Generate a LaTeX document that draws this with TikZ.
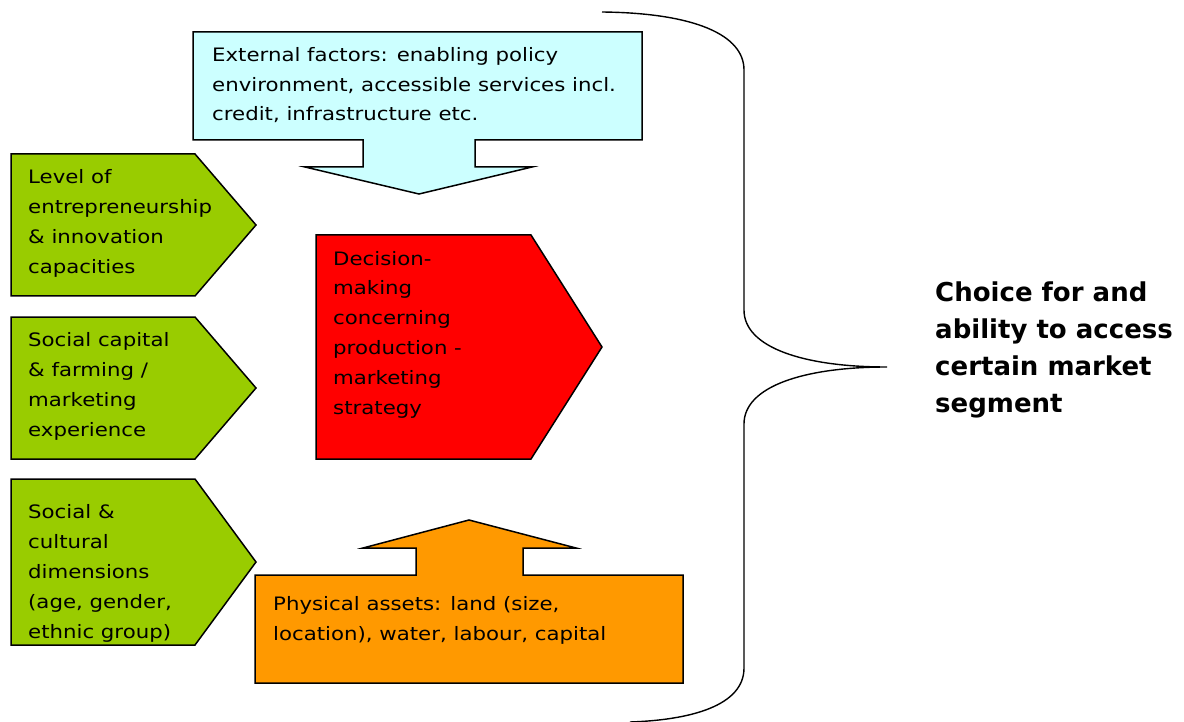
\documentclass[tikz,border=0pt]{standalone}
\usepackage{fontspec}
\newfontfamily\bodyfont{DejaVu Sans}[FakeStretch=1.15]
\newfontfamily\headfont{DejaVu Sans}
\definecolor{extblue}{HTML}{CCFFFF}
\definecolor{leafgreen}{HTML}{99CC00}
\definecolor{decred}{HTML}{FF0000}
\definecolor{assetorange}{HTML}{FF9900}
\tikzset{
  shapeline/.style={draw=black, line width=1.5pt, line join=miter},
  % multi-line texts are placed by the baseline of their last line
  bodytext/.style={anchor=base west, inner sep=0pt, align=left,
    font=\bodyfont\fontsize{18.5}{29.8}\selectfont},
  headtext/.style={anchor=base west, inner sep=0pt, align=left,
    font=\headfont\bfseries\fontsize{26}{37}\selectfont},
  bracket/.style={draw=black, line width=1.4pt}
}
\begin{document}
\begin{tikzpicture}[x=1pt,y=-1pt]
\useasboundingbox (0,0) rectangle (1184,722);

% external factors: box with downward arrow
\draw[shapeline, fill=extblue] (193,32) -- (642,32) -- (642,140) -- (475,140)
  -- (475,167) -- (532,167) -- (419,194) -- (305,167) -- (363,167)
  -- (363,140) -- (193,140) -- cycle;
\node[bodytext] (ext) at (212,121)
  {External factors: enabling policy\\environment, accessible services incl.\\credit, infrastructure etc.};

% left-hand pentagon arrows
\draw[shapeline, fill=leafgreen] (11,154) -- (195,154) -- (256,225) -- (195,296) -- (11,296) -- cycle;
\node[bodytext] (ent) at (28,273)
  {Level of\\entrepreneurship\\\& innovation\\capacities};

\draw[shapeline, fill=leafgreen] (11,317) -- (195,317) -- (256,388) -- (195,459) -- (11,459) -- cycle;
\node[bodytext] (soc) at (28,436)
  {Social capital\\\& farming /\\marketing\\experience};

\draw[shapeline, fill=leafgreen] (11,479) -- (195,479) -- (256,562) -- (195,645) -- (11,645) -- cycle;
\node[bodytext] (cul) at (28,638)
  {Social \&\\cultural\\dimensions\\(age, gender,\\ethnic group)};

% central decision arrow
\draw[shapeline, fill=decred] (316,235) -- (531,235) -- (602,347) -- (531,459) -- (316,459) -- cycle;
\node[bodytext] (dec) at (333,414)
  {Decision-\\making\\concerning\\production -\\marketing\\strategy};

% physical assets: box with upward arrow
\draw[shapeline, fill=assetorange] (255,575) -- (416,575) -- (416,548) -- (363,548)
  -- (469,520) -- (576,548) -- (523,548) -- (523,575) -- (683,575)
  -- (683,683) -- (255,683) -- cycle;
\node[bodytext] (phy) at (273,640)
  {Physical assets: land (size,\\location), water, labour, capital};

% curly brace gathering all factors
\coordinate (btop) at (602,12);
\coordinate (btip) at (887,367);
\coordinate (bbot) at (630,722);
\draw[bracket] (btop) .. controls (695,13) and (744,35) .. (744,70)
  -- (744,310) .. controls (744,348) and (805,367) .. (btip)
  .. controls (805,367) and (744,386) .. (744,424)
  -- (744,668) .. controls (744,706) and (690,720) .. (bbot);

% outcome
\node[headtext] (choice) at (935,412)
  {Choice for and\\ability to access\\certain market\\segment};
\end{tikzpicture}
\end{document}
